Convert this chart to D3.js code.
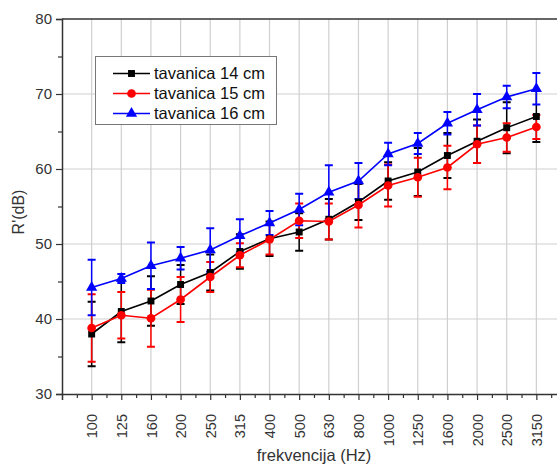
<!DOCTYPE html>
<html>
<head>
<meta charset="utf-8">
<script src="https://cdn.jsdelivr.net/npm/d3@7"></script>
<style>
  html, body { margin: 0; padding: 0; background: #fff; }
  svg { display: block; font-family: "Liberation Sans", Arial, sans-serif; }
</style>
</head>
<body>
<svg id="chart" width="557" height="465"></svg>
<script>
// ---- data ----
const categories = ["100","125","160","200","250","315","400","500","630","800","1000","1250","1600","2000","2500","3150"];
const seriesNames = ["tavanica 14 cm", "tavanica 15 cm", "tavanica 16 cm"];
const t14 = [38.0, 41.0, 42.4, 44.6, 46.2, 49.0, 50.7, 51.6, 53.3, 55.6, 58.4, 59.6, 61.8, 63.7, 65.5, 67.0];
const t14err = [4.3, 4.1, 3.3, 2.6, 2.4, 2.3, 2.3, 2.5, 2.7, 2.4, 2.5, 3.2, 3.0, 2.9, 3.4, 3.4];
const t15 = [38.8, 40.5, 40.1, 42.6, 45.6, 48.5, 50.6, 53.1, 53.0, 55.2, 57.8, 58.9, 60.2, 63.3, 64.2, 65.6];
const t15err = [4.5, 3.1, 3.8, 3.0, 2.0, 1.6, 2.0, 2.3, 2.4, 3.0, 2.8, 2.6, 2.9, 2.5, 1.9, 1.6];
const t16 = [44.2, 45.4, 47.1, 48.1, 49.2, 51.1, 52.8, 54.6, 56.9, 58.4, 62.0, 63.4, 66.1, 67.9, 69.6, 70.7];
const t16err = [3.7, 0.6, 3.1, 1.5, 2.9, 2.2, 1.6, 2.1, 3.6, 2.4, 1.5, 1.4, 1.5, 2.1, 1.5, 2.1];
const yTicks = [30, 40, 50, 60, 70, 80];
const yMinorTicks = [35, 45, 55, 65, 75];
const colors = ["#000000", "#ff0000", "#0000ff"];
const symbols = [d3.symbolSquare, d3.symbolCircle, d3.symbolTriangle];
const xTitle = "frekvencija (Hz)";
const yTitle = "R'(dB)";

const series = [
  {name: seriesNames[0], values: t14, err: t14err, color: colors[0], symbol: symbols[0], size: 48},
  {name: seriesNames[1], values: t15, err: t15err, color: colors[1], symbol: symbols[1], size: 60},
  {name: seriesNames[2], values: t16, err: t16err, color: colors[2], symbol: symbols[2], size: 55}
];

// ---- layout ----
const mLeft = 62, mTop = 19, mBottom = 394, mRight = 566;
const svg = d3.select("#chart");

const x = d3.scaleLinear().domain([-1, categories.length]).range([mLeft, mRight]);
const y = d3.scaleLinear().domain([30, 80]).range([mBottom, mTop]);

const gridColor = "#cfcfcf";
const axisColor = "#333";

// grid
const g = svg.append("g");
g.selectAll("line.vg").data(categories).join("line")
  .attr("x1", (d, i) => x(i)).attr("x2", (d, i) => x(i))
  .attr("y1", mTop).attr("y2", mBottom)
  .attr("stroke", gridColor).attr("stroke-width", 1.2);
g.selectAll("line.hg").data(yTicks.filter(v => v > 30 && v < 80)).join("line")
  .attr("x1", mLeft).attr("x2", mRight)
  .attr("y1", d => y(d)).attr("y2", d => y(d))
  .attr("stroke", gridColor).attr("stroke-width", 1.2);

// top border
svg.append("line").attr("x1", mLeft).attr("x2", mRight).attr("y1", mTop).attr("y2", mTop)
  .attr("stroke", axisColor).attr("stroke-width", 1.5);

// y axis
const yAxis = svg.append("g").attr("transform", `translate(${mLeft},0)`)
  .call(d3.axisLeft(y).tickValues(yTicks).tickSize(6).tickPadding(4).tickFormat(d3.format("d")));
yAxis.select(".domain").attr("stroke", axisColor).attr("stroke-width", 1.5);
yAxis.selectAll(".tick line").attr("stroke", axisColor).attr("stroke-width", 1.2);
yAxis.selectAll(".tick text").attr("font-size", 15).attr("fill", "#333")
  .attr("font-family", "Liberation Sans, Arial, sans-serif");
const yMinor = svg.append("g").attr("transform", `translate(${mLeft},0)`)
  .call(d3.axisLeft(y).tickValues(yMinorTicks).tickSize(4).tickFormat(""));
yMinor.select(".domain").remove();
yMinor.selectAll(".tick line").attr("stroke", axisColor).attr("stroke-width", 1.2);

// x axis
const idx = categories.map((d, i) => i);
const xAxis = svg.append("g").attr("transform", `translate(0,${mBottom})`)
  .call(d3.axisBottom(x).tickValues(idx).tickSize(6).tickFormat(i => categories[i]));
xAxis.select(".domain").attr("stroke", axisColor).attr("stroke-width", 1.5);
xAxis.selectAll(".tick line").attr("stroke", axisColor).attr("stroke-width", 1.2);
xAxis.selectAll(".tick text")
  .attr("font-size", 14.5).attr("fill", "#333")
  .attr("font-family", "Liberation Sans, Arial, sans-serif")
  .attr("transform", "rotate(-90)")
  .attr("text-anchor", "end")
  .attr("x", -20).attr("y", 0).attr("dy", "0.35em");
const minorX = d3.range(-0.5, categories.length, 1);
const xMinor = svg.append("g").attr("transform", `translate(0,${mBottom})`)
  .call(d3.axisBottom(x).tickValues(minorX).tickSize(4).tickFormat(""));
xMinor.select(".domain").remove();
xMinor.selectAll(".tick line").attr("stroke", axisColor).attr("stroke-width", 1.2);

// titles
svg.append("text").attr("x", 314).attr("y", 461).attr("text-anchor", "middle")
  .attr("font-size", 16.5).attr("fill", "#333").text(xTitle);
svg.append("text").attr("transform", "translate(24,212) rotate(-90)")
  .attr("text-anchor", "middle").attr("font-size", 16).attr("fill", "#333").text(yTitle);

// series
const line = d3.line().x((d, i) => x(i)).y(d => y(d));
series.forEach(s => {
  const sg = svg.append("g");
  const eb = sg.selectAll("g.eb").data(s.values).join("g");
  eb.append("line")
    .attr("x1", (d, i) => x(i)).attr("x2", (d, i) => x(i))
    .attr("y1", (d, i) => y(d + s.err[i])).attr("y2", (d, i) => y(d - s.err[i]))
    .attr("stroke", s.color).attr("stroke-width", 1.5);
  eb.append("line")
    .attr("x1", (d, i) => x(i) - 4).attr("x2", (d, i) => x(i) + 4)
    .attr("y1", (d, i) => y(d + s.err[i])).attr("y2", (d, i) => y(d + s.err[i]))
    .attr("stroke", s.color).attr("stroke-width", 2);
  eb.append("line")
    .attr("x1", (d, i) => x(i) - 4).attr("x2", (d, i) => x(i) + 4)
    .attr("y1", (d, i) => y(d - s.err[i])).attr("y2", (d, i) => y(d - s.err[i]))
    .attr("stroke", s.color).attr("stroke-width", 2);
});
series.forEach(s => {
  const sg = svg.append("g");
  sg.append("path").datum(s.values).attr("d", line)
    .attr("fill", "none").attr("stroke", s.color).attr("stroke-width", 1.6);
  sg.selectAll("path.m").data(s.values).join("path")
    .attr("transform", (d, i) => `translate(${x(i)},${y(d)})`)
    .attr("d", d3.symbol().type(s.symbol).size(s.size))
    .attr("fill", s.color);
});

// legend
const lg = svg.append("g");
lg.append("rect").attr("x", 95.5).attr("y", 56.5).attr("width", 181).attr("height", 68)
  .attr("fill", "#fff").attr("stroke", "#777").attr("stroke-width", 1);
series.forEach((s, i) => {
  const cy = 73.5 + i * 20;
  lg.append("line").attr("x1", 113).attr("x2", 150).attr("y1", cy).attr("y2", cy)
    .attr("stroke", s.color).attr("stroke-width", 1.6);
  lg.append("path").attr("transform", `translate(131.5,${cy})`)
    .attr("d", d3.symbol().type(s.symbol).size(s.size)).attr("fill", s.color);
  lg.append("text").attr("x", 154).attr("y", cy).attr("dy", "0.35em")
    .attr("font-size", 16.5).attr("fill", "#111").text(s.name);
});
</script>
</body>
</html>
